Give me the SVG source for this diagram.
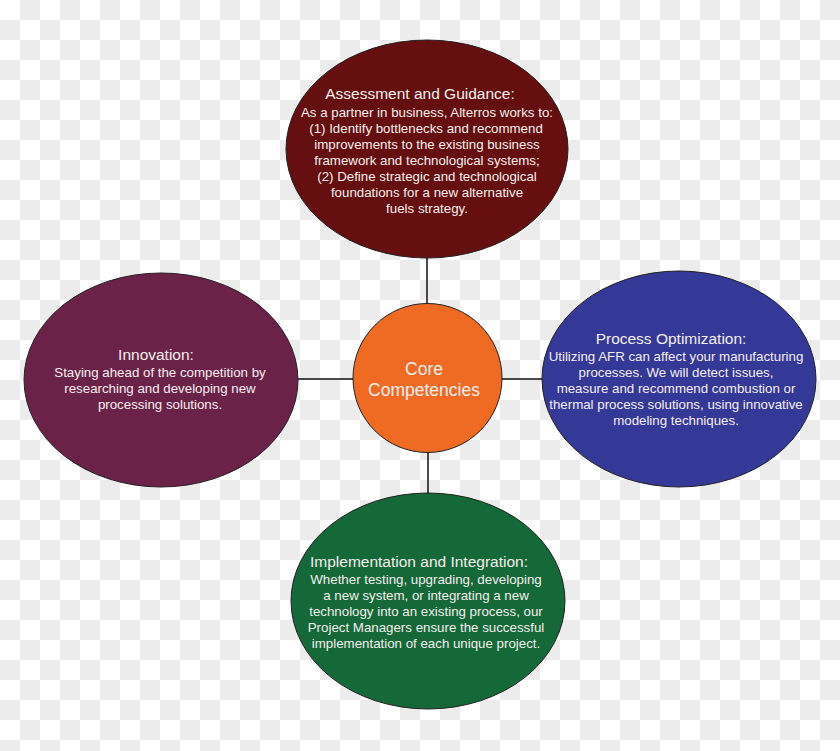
<svg xmlns="http://www.w3.org/2000/svg" width="840" height="751" viewBox="0 0 840 751">
<defs>
<pattern id="checker" x="0" y="0" width="40" height="40" patternUnits="userSpaceOnUse">
<rect width="40" height="40" fill="#ffffff"/>
<rect x="20" y="0" width="20" height="20" fill="#ececec"/>
<rect x="0" y="20" width="20" height="20" fill="#ececec"/>
</pattern>
</defs>
<style>
.node { stroke: #222; stroke-width: 1; }
.conn { stroke: #111; stroke-width: 1.5; fill: none; }
text { font-family: "Liberation Sans", Arial, sans-serif; fill: #f4eeee; text-anchor: middle; }
.title { font-size: 15.5px; }
.body { font-size: 13.3px; }
.core { font-size: 17.5px; }
</style>
<rect width="840" height="751" fill="url(#checker)"/>
<g id="connectors">
<line class="conn" x1="427" y1="257" x2="427" y2="305"/>
<line class="conn" x1="297" y1="379" x2="354" y2="379"/>
<line class="conn" x1="501" y1="379" x2="543" y2="379"/>
<line class="conn" x1="428" y1="451" x2="428" y2="494"/>
</g>
<g id="assessment">
<ellipse class="node" cx="427" cy="149" rx="141" ry="109" fill="#650f10"/>
<text class="title" x="420" y="99">Assessment and Guidance:</text>
<text class="body" x="427" y="116.5">As a partner in business, Alterros works to:</text>
<text class="body" x="426" y="132.5">(1) Identify bottlenecks and recommend</text>
<text class="body" x="427" y="148.5">improvements to the existing business</text>
<text class="body" x="427" y="164.5">framework and technological systems;</text>
<text class="body" x="427" y="180.5">(2) Define strategic and technological</text>
<text class="body" x="427" y="196.5">foundations for a new alternative</text>
<text class="body" x="427" y="212.5">fuels strategy.</text>
</g>
<g id="innovation">
<ellipse class="node" cx="161" cy="380" rx="137" ry="107" fill="#6b2249"/>
<text class="title" x="156" y="360">Innovation:</text>
<text class="body" x="160" y="377">Staying ahead of the competition by</text>
<text class="body" x="160" y="393">researching and developing new</text>
<text class="body" x="160" y="409">processing solutions.</text>
</g>
<g id="process">
<ellipse class="node" cx="679" cy="379" rx="137" ry="108" fill="#343896"/>
<text class="title" x="671" y="344">Process Optimization:</text>
<text class="body" x="676" y="361">Utilizing AFR can affect your manufacturing</text>
<text class="body" x="676" y="377">processes. We will detect issues,</text>
<text class="body" x="676" y="393">measure and recommend combustion or</text>
<text class="body" x="676" y="409">thermal process solutions, using innovative</text>
<text class="body" x="676" y="425">modeling techniques.</text>
</g>
<g id="implementation">
<ellipse class="node" cx="428" cy="601" rx="137" ry="108" fill="#156837"/>
<text class="title" x="419" y="567">Implementation and Integration:</text>
<text class="body" x="426" y="584">Whether testing, upgrading, developing</text>
<text class="body" x="426" y="600">a new system, or integrating a new</text>
<text class="body" x="426" y="616">technology into an existing process, our</text>
<text class="body" x="426" y="632">Project Managers ensure the successful</text>
<text class="body" x="426" y="648">implementation of each unique project.</text>
</g>
<g id="core">
<circle class="node" cx="427.5" cy="378" r="74.5" fill="#ef6a23"/>
<text class="core" x="424" y="375">Core</text>
<text class="core" x="424" y="396">Competencies</text>
</g>
</svg>
